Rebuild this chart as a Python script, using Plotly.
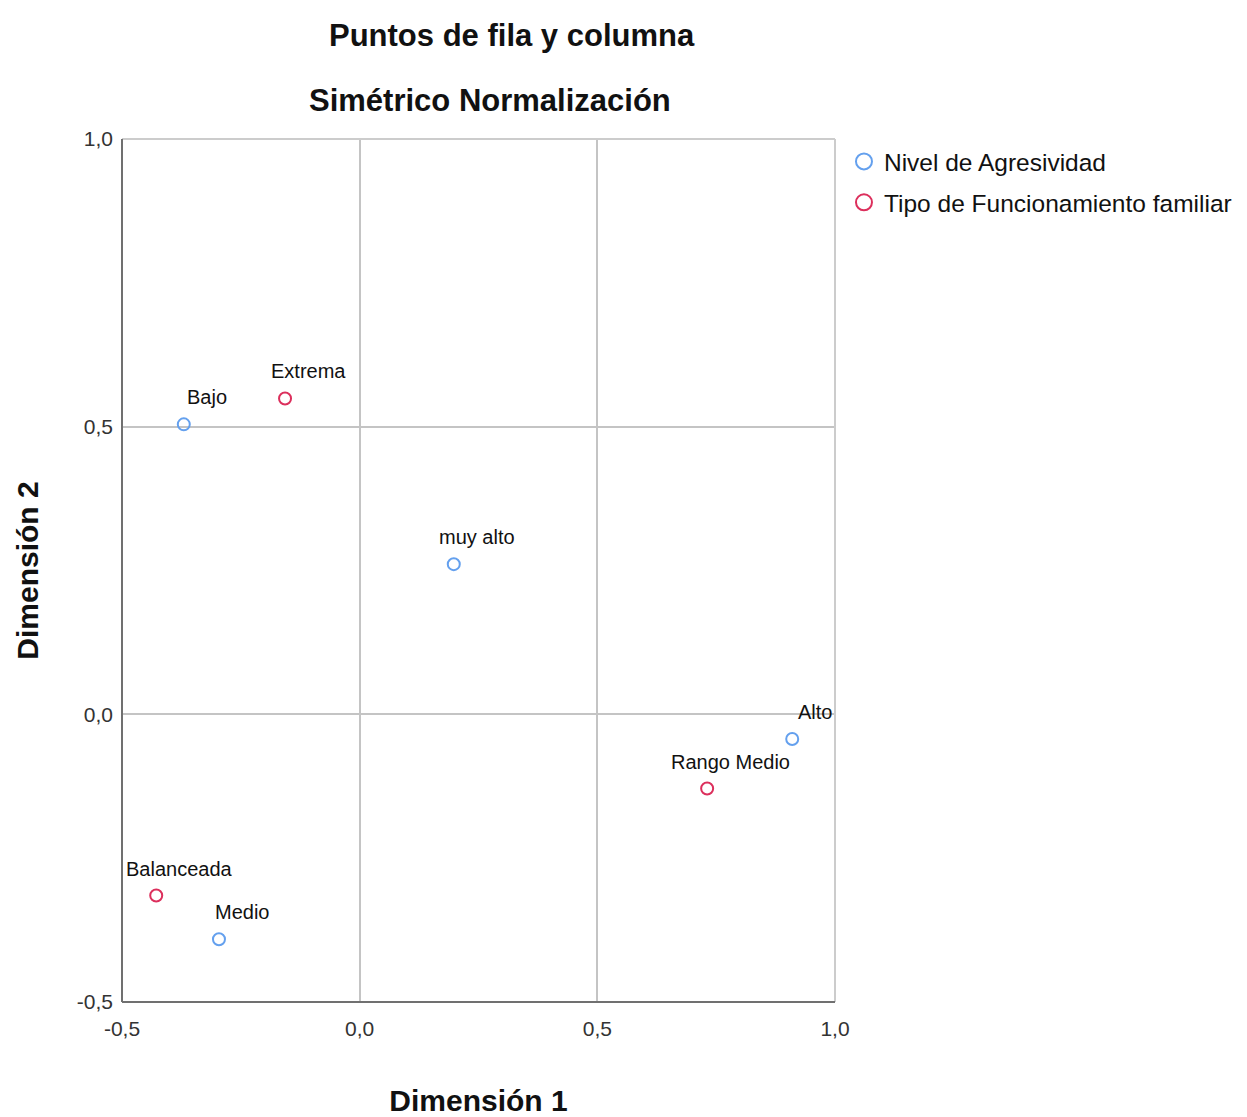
import plotly.graph_objects as go

# Data
row_labels = ["Bajo", "muy alto", "Alto", "Medio"]
row_x = [-0.370, 0.198, 0.910, -0.296]
row_y = [0.504, 0.261, -0.043, -0.391]

col_labels = ["Extrema", "Rango Medio", "Balanceada"]
col_x = [-0.157, 0.731, -0.428]
col_y = [0.549, -0.129, -0.315]

series_names = ["Nivel de Agresividad", "Tipo de Funcionamiento familiar"]
tick_vals = [-0.5, 0.0, 0.5, 1.0]
tick_text = ["-0,5", "0,0", "0,5", "1,0"]

BLUE = "#64a0ee"
RED = "#dc2f5c"
FONT = "Liberation Sans, Arial, sans-serif"

fig = go.Figure()

# data points (no legend)
fig.add_trace(go.Scatter(x=row_x, y=row_y, mode="markers", showlegend=False,
                         marker=dict(symbol="circle-open", size=12, color=BLUE, line=dict(width=2, color=BLUE)),
                         hoverinfo="skip", cliponaxis=False))
fig.add_trace(go.Scatter(x=col_x, y=col_y, mode="markers", showlegend=False,
                         marker=dict(symbol="circle-open", size=12, color=RED, line=dict(width=2, color=RED)),
                         hoverinfo="skip", cliponaxis=False))
# legend entries
for i, (name, c) in enumerate(zip(series_names, [BLUE, RED])):
    fig.add_trace(go.Scatter(x=[None], y=[None], mode="markers", name=name, legendgroup=f"g{i}",
                             marker=dict(symbol="circle-open", size=20, color=c, line=dict(width=2, color=c))))

# point labels
for lx, ly, lt in list(zip(row_x, row_y, row_labels)) + list(zip(col_x, col_y, col_labels)):
    fig.add_annotation(x=lx, y=ly, text=lt, showarrow=False, xshift=23, yshift=27,
                       font=dict(family=FONT, size=20, color="#111111"))

# titles
fig.add_annotation(xref="paper", yref="paper", x=0.547, y=1.1205, yanchor="middle", xanchor="center",
                   text="<b>Puntos de fila y columna</b>",
                   showarrow=False, font=dict(family=FONT, size=31, color="#111111"))
fig.add_annotation(xref="paper", yref="paper", x=0.516, y=1.045, yanchor="middle", xanchor="center",
                   text="<b>Simétrico Normalización</b>",
                   showarrow=False, font=dict(family=FONT, size=31, color="#111111"))

axis_common = dict(
    tickvals=tick_vals, ticktext=tick_text, showgrid=True, gridcolor="#c4c4c4", gridwidth=2,
    zeroline=False, showline=False, ticks="", tickfont=dict(family=FONT, size=21, color="#333333"),
    title_font=dict(family=FONT, size=30, color="#111111"),
)

fig.update_xaxes(range=[-0.5, 1.0], title_text="<b>Dimensión 1</b>", title_standoff=50,
                 ticklabelstandoff=12, **axis_common)
fig.update_yaxes(range=[-0.5, 1.0], title_text="<b>Dimensión 2</b>", title_standoff=29,
                 ticklabelstandoff=8, **axis_common)

# top and right frame (light), left and bottom axis lines (darker)
fig.add_shape(type="line", xref="paper", yref="paper", x0=0, x1=1, y0=1, y1=1,
              line=dict(color="#cccccc", width=2))
fig.add_shape(type="line", xref="paper", yref="paper", x0=1, x1=1, y0=0, y1=1,
              line=dict(color="#cccccc", width=2))
fig.add_shape(type="line", xref="paper", yref="paper", x0=0, x1=0, y0=0, y1=1,
              line=dict(color="#707070", width=2))
fig.add_shape(type="line", xref="paper", yref="paper", x0=0, x1=1, y0=0, y1=0,
              line=dict(color="#707070", width=2))

fig.update_layout(
    width=1239, height=1109,
    margin=dict(l=114, r=412, t=131, b=115, autoexpand=False),
    plot_bgcolor="white", paper_bgcolor="white",
    legend=dict(x=1.0126, y=1.0, xanchor="left", yanchor="top",
                font=dict(family=FONT, size=24.5, color="#111111"),
                itemwidth=30, tracegroupgap=6, bgcolor="rgba(0,0,0,0)"),
)

fig.write_html("out.html")
